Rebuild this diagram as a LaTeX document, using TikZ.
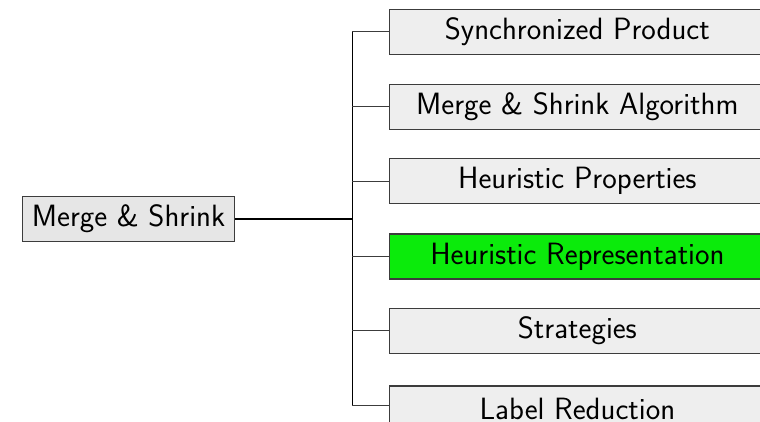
\documentclass[tikz,border=0pt]{standalone}
\usetikzlibrary{calc}
\definecolor{boxgray}{HTML}{EEEEEE}
\definecolor{rootgray}{HTML}{E6E6E6}
\definecolor{hlgreen}{HTML}{0BEB0B}
\definecolor{edgegray}{HTML}{3C3C3C}
\begin{document}
\begin{tikzpicture}[x=1pt,y=-1pt,
  font=\sffamily\fontsize{30.8}{36}\selectfont,
  box/.style={draw=edgegray, line width=1.1pt, fill=boxgray, minimum height=45pt, inner sep=0pt, anchor=west},
  childbox/.style={box, minimum width=375pt},
  trunk/.style={draw=black, line width=1.1pt},
  rootline/.style={draw=black, line width=2pt},
  stub/.style={draw=edgegray, line width=1.1pt}]
\useasboundingbox (0,0) rectangle (760,421);
\node[box, fill=rootgray, minimum width=212pt] (root) at (22,218.7) {Merge \& Shrink};
\node[childbox] (c1) at (389.3,31.6) {Synchronized Product};
\node[childbox] (c2) at (389.3,106.6) {Merge \& Shrink Algorithm};
\node[childbox] (c3) at (389.3,181.2) {Heuristic Properties};
\node[childbox, fill=hlgreen] (c4) at (389.3,256.5) {Heuristic Representation};
\node[childbox] (c5) at (389.3,330.8) {Strategies};
\node[childbox] (c6) at (389.3,408.5) {Label Reduction};
\coordinate (v) at (352.3,218.7);
\coordinate (e6) at ($(c6.west)+(0,-2.8)$);
\draw[rootline] (root.east) -- (v);
\draw[trunk] (v |- c1.west) -- (v |- e6);
\foreach \c in {c1,c2,c3,c4,c5}{
  \draw[stub] (v |- \c.west) -- (\c.west);
}
\draw[stub] (v |- e6) -- (e6);
\end{tikzpicture}
\end{document}
